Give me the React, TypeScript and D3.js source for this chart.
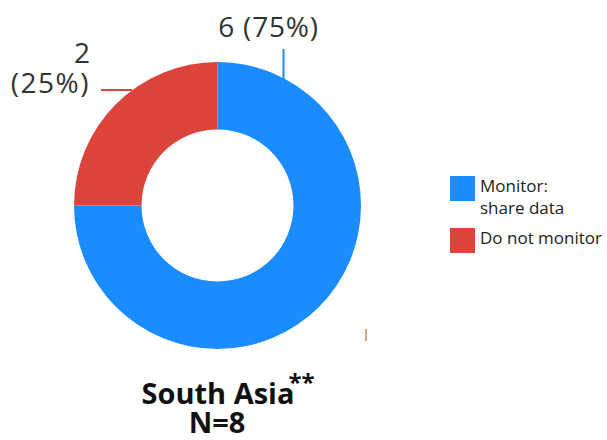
import React from "react";
import * as d3 from "d3";

const categories = ["Monitor: share data", "Do not monitor"];
const values = [6, 2];
const colors = ["#1a8cff", "#db433b"];
const legendLines = [["Monitor:", "share data"], ["Do not monitor"]];
const title = "South Asia";
const subtitle = "N=8";

export default function App() {
  const W = 607, H = 440;
  const cx = 217.5, cy = 205.5;
  const rO = 143.5, rI = 76;
  const total = d3.sum(values);
  const pie = d3.pie<number>().sort(null).value((d) => d);
  const arcs = pie(values);
  const arc = d3.arc<d3.PieArcDatum<number>>().innerRadius(rI).outerRadius(rO);
  const pct = (v: number) => `${Math.round((v / total) * 100)}%`;
  const font = "'Open Sans', sans-serif";
  return (
    <svg width={W} height={H} style={{ position: "absolute", left: 0, top: 0, background: "#fff" }}>
      <g transform={`translate(${cx},${cy})`}>
        {arcs.map((a, i) => (
          <path key={i} d={arc(a) || ""} fill={colors[i]} />
        ))}
      </g>
      {/* blue label */}
      <line x1={283.5} x2={283.5} y1={49} y2={81} stroke={colors[0]} strokeWidth={2} />
      <text x={268.5} y={37} textAnchor="middle" fontFamily={font} fontSize={28} letterSpacing={0.8} fill="#333">
        {`${values[0]} (${pct(values[0])})`}
      </text>
      {/* red label */}
      <line x1={101} x2={132} y1={90} y2={90} stroke={colors[1]} strokeWidth={2} />
      <text x={90} y={63} textAnchor="end" fontFamily={font} fontSize={28} fill="#333">
        {`${values[1]}`}
      </text>
      <text x={90} y={93} textAnchor="end" fontFamily={font} fontSize={28} letterSpacing={1.5} fill="#333">
        {`(${pct(values[1])})`}
      </text>
      <line x1={366} x2={366} y1={329} y2={341} stroke="#c8894a" strokeWidth={1.5} />
      {/* legend */}
      {categories.map((c, i) => (
        <g key={c} transform={`translate(450,${176 + i * 52})`}>
          <rect x={0} y={0} width={25} height={25} fill={colors[i]} />
          {legendLines[i].map((l, j) => (
            <text key={j} x={30} y={16 + j * 21.5} fontFamily={font} fontSize={17} fill="#222">{l}</text>
          ))}
        </g>
      ))}
      <text x={218} y={404} textAnchor="middle" fontFamily={font} fontWeight={700} fontSize={29} fill="#111">{title}</text>
      <text x={301.5} y={391} textAnchor="middle" fontFamily={font} fontWeight={700} fontSize={24} fill="#111">**</text>
      <text x={217} y={433} textAnchor="middle" fontFamily={font} fontWeight={700} fontSize={29} fill="#111">{subtitle}</text>
    </svg>
  );
}
